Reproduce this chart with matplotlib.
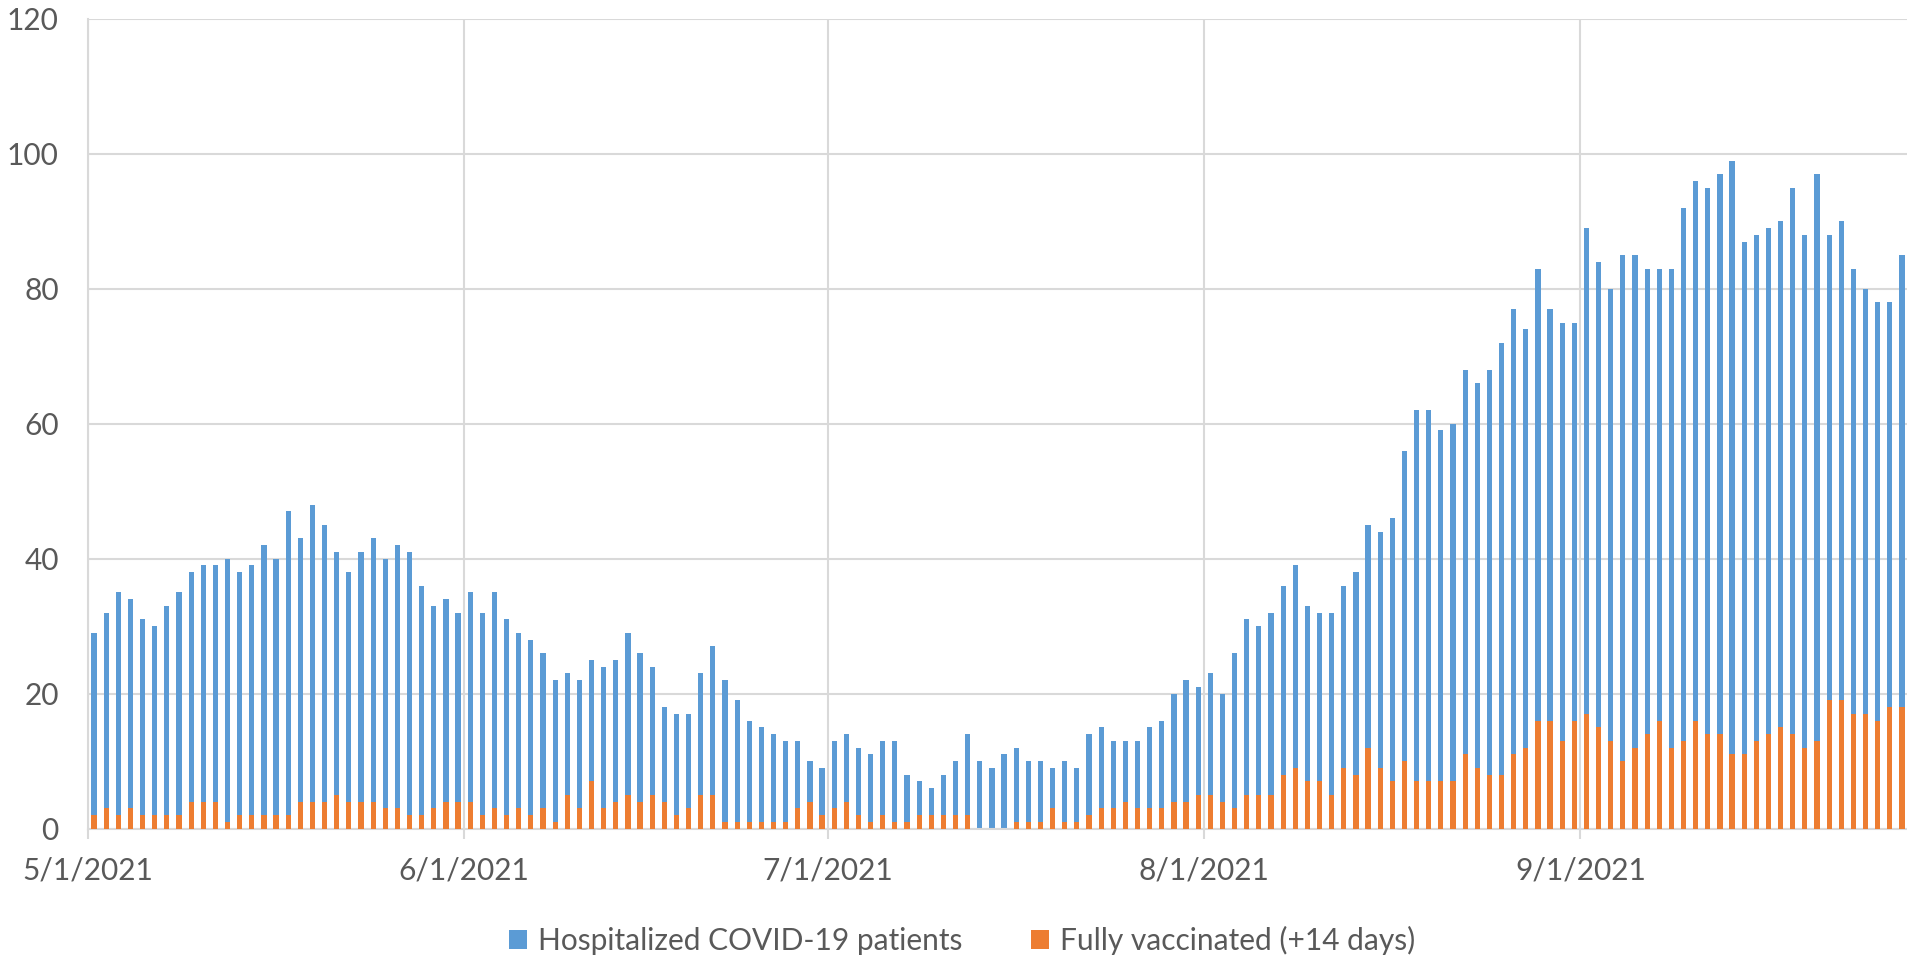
import numpy as np
import pandas as pd
import matplotlib
matplotlib.use("Agg")
import matplotlib.pyplot as plt

plt.rcParams['font.family'] = ['Lato', 'DejaVu Sans']

# daily values, 5/1/2021 .. 9/27/2021
start = pd.Timestamp('2021-05-01')
dates = pd.date_range(start, periods=150, freq='D')

hospitalized = [
    29, 32, 35, 34, 31, 30, 33, 35, 38, 39, 39, 40, 38, 39, 42, 40, 47, 43, 48, 45, 41, 38, 41, 43, 40, 42,
    41, 36, 33, 34, 32, 35, 32, 35, 31, 29, 28, 26, 22, 23, 22, 25, 24, 25, 29, 26, 24, 18, 17, 17, 23, 27,
    22, 19, 16, 15, 14, 13, 13, 10, 9, 13, 14, 12, 11, 13, 13, 8, 7, 6, 8, 10, 14, 10, 9, 11, 12,
    10, 10, 9, 10, 9, 14, 15, 13, 13, 13, 15, 16, 20, 22, 21, 23, 20, 26, 31, 30, 32, 36, 39, 33, 32, 32,
    36, 38, 45, 44, 46, 56, 62, 62, 59, 60, 68, 66, 68, 72, 77, 74, 83, 77, 75, 75, 89, 84, 80, 85,
    85, 83, 83, 83, 92, 96, 95, 97, 99, 87, 88, 89, 90, 95, 88, 97, 88, 90, 83, 80, 78, 78, 85,
]
vaccinated = [
    2, 3, 2, 3, 2, 2, 2, 2, 4, 4, 4, 1, 2, 2, 2, 2, 2, 4, 4, 4, 5, 4, 4, 4, 3, 3,
    2, 2, 3, 4, 4, 4, 2, 3, 2, 3, 2, 3, 1, 5, 3, 7, 3, 4, 5, 4, 5, 4, 2, 3, 5, 5,
    1, 1, 1, 1, 1, 1, 3, 4, 2, 3, 4, 2, 1, 2, 1, 1, 2, 2, 2, 2, 2, 0, 0, 0, 1,
    1, 1, 3, 1, 1, 2, 3, 3, 4, 3, 3, 3, 4, 4, 5, 5, 4, 3, 5, 5, 5, 8, 9, 7, 7, 5,
    9, 8, 12, 9, 7, 10, 7, 7, 7, 7, 11, 9, 8, 8, 11, 12, 16, 16, 13, 16, 17, 15, 13, 10,
    12, 14, 16, 12, 13, 16, 14, 14, 11, 11, 13, 14, 15, 14, 12, 13, 19, 19, 17, 17, 16, 18, 18,
]
month_starts = ['2021-05-01', '2021-06-01', '2021-07-01', '2021-08-01', '2021-09-01']
month_labels = ['5/1/2021', '6/1/2021', '7/1/2021', '8/1/2021', '9/1/2021']

blue = '#5B9BD5'
orange = '#ED7D31'
grid = '#D9D9D9'
txt = '#595959'

x = np.arange(len(dates))
fig = plt.figure(figsize=(19.08, 9.59), dpi=100)
ax = fig.add_axes([88/1908, 1-828.5/959, 1-88/1908, (828.5-19)/959])

ax.bar(x, hospitalized, width=0.43, color=blue, label='Hospitalized COVID-19 patients', zorder=2)
ax.bar(x, vaccinated, width=0.43, color=orange, label='Fully vaccinated (+14 days)', zorder=3)

# Excel date axis: gridlines sit between categories
tick_pos = [(pd.Timestamp(m) - start).days - 0.5 for m in month_starts]
ax.set_xticks(tick_pos)
ax.set_xticklabels(month_labels)
ax.set_xlim(-0.5, len(dates) - 0.5)
ax.set_ylim(0, 120)
ax.set_yticks(range(0, 121, 20))

ax.grid(True, color=grid, lw=1.5, zorder=0)
ax.set_axisbelow(True)
for s in ['top', 'right']:
    ax.spines[s].set_visible(False)
for s in ['left', 'bottom']:
    ax.spines[s].set_color(grid)
    ax.spines[s].set_linewidth(1.5)

ax.tick_params(axis='x', colors=grid, length=7, width=1.5, pad=13, labelsize=21.5, labelcolor=txt)
ax.tick_params(axis='y', length=0, pad=21, labelsize=21.5, labelcolor=txt)

fig.legend(loc='center', bbox_to_anchor=(962/1908, 1-940/959), ncol=2, frameon=False,
           fontsize=21.5, labelcolor=txt, handlelength=0.6, handleheight=0.6,
           handletextpad=0.37, columnspacing=2.3)

fig.savefig('out.png', dpi=100)
